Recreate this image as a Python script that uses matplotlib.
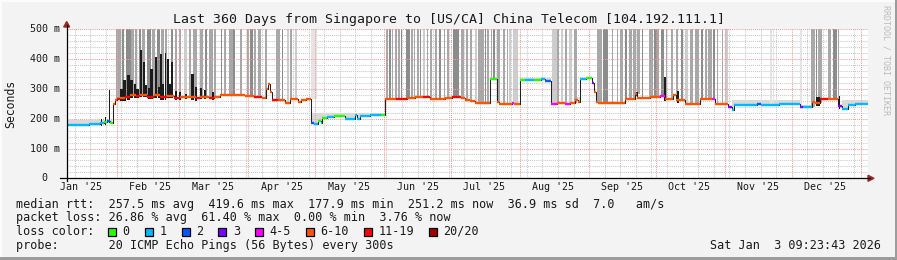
import matplotlib
matplotlib.use("Agg")
import matplotlib.pyplot as plt
import numpy as np
from datetime import datetime, timedelta
from matplotlib.patches import Rectangle, Polygon
from matplotlib.lines import Line2D
from matplotlib.transforms import blended_transform_factory as blend

plt.rcParams['font.family'] = ['DejaVu Sans Mono', 'DejaVu Sans']

# ------------------------------------------------------------------ data
start = datetime(2025, 1, 9, 9, 23, 43)
span_days = 360

title = "Last 360 Days from Singapore to [US/CA] China Telecom [104.192.111.1]"
y_ticks = [0, 100, 200, 300, 400, 500]
y_tick_labels = ["0", "100 m", "200 m", "300 m", "400 m", "500 m"]
month_starts = [(2025, m) for m in range(2, 13)] + [(2026, 1)]
month_labels = [(2025, m) for m in range(1, 13)]

loss_labels = ["0", "1", "2", "3", "4-5", "6-10", "11-19", "20/20"]
loss_colors = ["#26ff00", "#00b8ff", "#0059ff", "#7e00ff",
               "#ff00ff", "#ff5500", "#ff0000", "#a00000"]

# median rtt (ms) as step segments: start day, value, loss class
med_day = [0, 5, 10, 15, 16.8, 18, 19.5, 20.8, 21.8, 22.6,
           24, 26.2, 28.4, 31, 33, 36, 39, 42, 45, 48,
           51, 55, 58, 60, 64, 66, 69, 74, 80, 84,
           87.7, 89.5, 90.4, 91.5, 92.2, 95, 98, 100.3, 103.9, 105.2,
           107.5, 109.8, 111, 112.9, 114, 114.7, 117, 120, 122.7, 125,
           129.5, 130.5, 131.5, 136, 141, 143, 148, 153, 156.4, 160,
           163.2, 169.9, 173, 177, 178.9, 181, 183.4, 190.1, 193.2, 194.1,
           200, 201, 203.6, 206, 210, 213, 215, 217.3, 220, 224,
           226, 228.3, 229.5, 230.7, 233, 235.9, 236.8, 237.7, 238.6, 250.7,
           255, 256.3, 257.5, 262, 264.2, 266.5, 268.7, 272.5, 273.5, 277.7,
           284.4, 289.8, 291.2, 297, 298.8, 299.8, 302.4, 310, 312, 320,
           329.3, 330.6, 334.7, 336, 338.3, 342, 346.4, 348.2, 350.9, 354]
med_ms = [180, 179, 181, 184, 188, 192, 186, 250, 262, 266,
          268, 272, 278, 276, 280, 274, 279, 272, 276, 270,
          274, 272, 268, 273, 270, 274, 281, 280, 276, 272,
          270, 300, 315, 290, 263, 262, 252, 267, 256, 262,
          265, 186, 183, 192, 185, 203, 206, 208, 209, 198,
          211, 200, 210, 212, 214, 265, 267, 268, 273, 272,
          267, 270, 273, 270, 262, 258, 254, 332, 256, 251,
          252, 251, 329, 331, 330, 332, 328, 251, 252, 251,
          253, 262, 255, 333, 335, 320, 290, 256, 254, 265,
          284, 268, 270, 274, 273, 275, 267, 278, 262, 251,
          267, 265, 251, 238, 230, 245, 246, 248, 247, 248,
          238, 238, 256, 252, 265, 266, 242, 231, 245, 251]
med_loss = [1, 1, 1, 1, 0, 2, 0, 5, 5, 6,
            5, 6, 5, 6, 5, 6, 5, 6, 5, 6,
            5, 5, 6, 5, 6, 5, 5, 5, 5, 6,
            5, 5, 5, 5, 6, 5, 5, 5, 5, 5,
            5, 2, 1, 0, 1, 0, 1, 0, 0, 1,
            1, 1, 1, 1, 0, 5, 6, 5, 5, 6,
            5, 5, 6, 5, 5, 5, 5, 0, 5, 5,
            4, 5, 0, 1, 0, 1, 2, 4, 5, 4,
            5, 5, 5, 1, 0, 3, 5, 5, 5, 5,
            5, 5, 5, 5, 5, 4, 5, 5, 5, 5,
            5, 4, 5, 3, 1, 1, 1, 2, 1, 1,
            3, 1, 5, 5, 6, 5, 3, 1, 1, 1]

# tall smoke bars (loss): start day, end day, shade
bar_d0 = [22.1, 24.8, 26.6, 28.9, 30.5, 32.3, 33.8, 36.2, 38.3, 40.4,
          42.5, 44.3, 46.7, 48.5, 50.3, 52.7, 55.1, 56.9, 59.9, 62.1,
          63.9, 66.1, 69.3, 70.6, 72.9, 74.7, 77.8, 81.0, 82.3, 84.1,
          85.9, 89.1, 94.0, 96.7, 98.9, 100.3, 102.5, 109.7,
          143.5, 144.8, 146.1, 147.4, 148.8, 150.1, 152.4, 154.6, 155.9, 157.3,
          158.7, 160.0, 161.8, 163.2, 165.4, 167.2, 169.4, 170.8, 173.5, 177.1,
          179.3, 181.1, 183.4, 184.7, 185.6, 187.9, 188.8, 190.5, 191.4, 193.2,
          195.9, 197.7, 198.6, 200.4, 217.9, 220.2, 221.9, 223.8, 225.6, 227.8,
          238.2, 240.8, 244.9, 247.1, 248.5, 250.7, 252.5, 254.3, 256.1, 258.4,
          261.5, 263.8, 265.1, 266.9, 269.1, 271.4, 273.6, 275.9, 277.7, 279.9,
          282.2, 284.8, 286.6, 288.0, 290.3, 292.1, 294.3, 295.6,
          315.9, 317.2, 329.3, 334.2, 336.5, 337.4, 341.9, 344.1, 346.4]
bar_d1 = [24.3, 25.7, 28.7, 30.2, 31.7, 33.2, 35.3, 37.7, 39.8, 41.9,
          43.7, 45.2, 47.9, 49.4, 51.2, 53.9, 56.0, 58.4, 61.2, 63.0,
          65.7, 67.1, 69.7, 71.5, 74.7, 75.6, 78.7, 81.9, 83.7, 85.0,
          87.3, 90.1, 95.8, 97.1, 99.8, 101.2, 103.4, 112.4,
          144.4, 145.7, 146.5, 148.3, 149.7, 150.6, 154.2, 155.5, 156.4, 158.2,
          159.1, 160.9, 162.3, 164.1, 166.3, 168.1, 169.9, 171.7, 176.2, 178.4,
          180.2, 182.0, 184.3, 185.6, 187.4, 188.3, 189.7, 191.0, 192.3, 194.6,
          196.8, 198.2, 199.5, 202.7, 220.2, 221.1, 222.8, 224.7, 226.9, 229.2,
          240.4, 243.1, 245.4, 247.6, 249.8, 251.6, 253.9, 255.7, 257.5, 258.8,
          263.3, 265.1, 266.0, 268.2, 269.6, 272.3, 274.5, 276.8, 279.0, 281.3,
          283.9, 285.7, 287.5, 289.8, 291.2, 292.6, 294.8, 296.9,
          316.8, 317.7, 330.0, 336.0, 336.9, 339.2, 343.2, 345.9, 346.8]
bar_shade = ["m", "d", "d", "m", "m", "d", "m", "d", "m", "d",
             "m", "m", "d", "m", "m", "l", "m", "m", "m", "d",
             "m", "m", "d", "m", "m", "d", "m", "m", "d", "m",
             "m", "m", "m", "d", "l", "m", "l", "v",
             "m", "d", "m", "m", "m", "d", "d", "m", "m", "m",
             "d", "l", "m", "m", "m", "d", "m", "m", "d", "m",
             "m", "m", "l", "m", "m", "d", "m", "m", "d", "m",
             "m", "m", "l", "l", "l", "m", "l", "m", "l", "m",
             "m", "d", "m", "m", "m", "d", "m", "m", "m", "d",
             "m", "d", "m", "d", "m", "m", "m", "d", "l", "m",
             "m", "d", "m", "m", "d", "m", "m", "l",
             "v", "v", "v", "m", "d", "m", "m", "d", "m"]

# dense (dark) smoke spikes: day, top (ms), width (days)
spike_day = [15.5, 17.5, 19.4, 24.6, 26.0, 27.7, 29.2, 30.7, 31.8, 33.4,
             34.7, 35.8, 36.8, 38.2, 40.0, 41.3, 42.3, 43.4, 44.4, 45.5,
             46.4, 47.4, 49.1, 50.9, 53.6, 56.4, 58.1, 60.3, 62.1, 65.7,
             256.1, 268.7, 274.5, 337.4, 347.1]
spike_top = [200, 205, 295, 300, 329, 346, 329, 318, 300, 430,
             390, 312, 302, 368, 407, 305, 418, 315, 420, 400,
             318, 390, 292, 288, 283, 350, 306, 302, 295, 290,
             290, 340, 292, 273, 275]
spike_w = [0.5, 0.5, 0.5, 1.2, 1.2, 1.3, 1.2, 1.2, 1.0, 0.8,
           1.0, 0.9, 0.9, 1.2, 0.9, 0.9, 0.8, 0.9, 0.8, 0.8,
           0.9, 0.8, 1.0, 1.0, 1.0, 1.2, 1.0, 1.0, 1.0, 1.0,
           0.6, 0.6, 0.8, 1.5, 0.8]

# light smoke spread above the median: start, end, top (ms)
band_d0 = [0, 109.8, 203.6, 228.3, 298.8, 329.3, 348.2]
band_d1 = [20.5, 143, 217.3, 230.7, 329.3, 334.7, 360]
band_top = [196, 218, 338, 272, 262, 246, 262]

stats_rtt = "median rtt:  257.5 ms avg  419.6 ms max  177.9 ms min  251.2 ms now  36.9 ms sd  7.0   am/s"
stats_loss = "packet loss: 26.86 % avg  61.40 % max  0.00 % min  3.76 % now"
probe_text = "probe:       20 ICMP Echo Pings (56 Bytes) every 300s"
stamp_text = "Sat Jan  3 09:23:43 2026"

# ------------------------------------------------------------------ figure
W, H = 897, 260
fig = plt.figure(figsize=(W / 100, H / 100), dpi=100)
fig.patch.set_facecolor("#F3F3F3")

def fx(x):
    return x / W

def fy(y):
    return 1 - y / H

L, R, T, B = 66.7, 868.3, 29.3, 178.3
ax = fig.add_axes([fx(L), fy(B), fx(R - L), (B - T) / H])
ax.set_facecolor("white")
ax.set_xlim(0, span_days)
ax.set_ylim(0, 500)
for s in ax.spines.values():
    s.set_visible(False)
ax.set_xticks([])
ax.set_yticks([])

def dday(dt):
    return (dt - start).total_seconds() / 86400.0

# grid
minor_c = "#C8C8C8"
major_c = "#F29A9A"
dot = (0, (1, 1))
for v in range(20, 500, 20):
    if v % 100:
        ax.axhline(v, color=minor_c, lw=0.75, ls=dot, zorder=0.5)
mon = datetime(2025, 1, 13)
month_days = [dday(datetime(y, m, 1)) for (y, m) in month_starts]
while dday(mon) < span_days:
    d = dday(mon)
    if min(abs(d - md) for md in month_days) > 0.5:
        ax.axvline(d, color=minor_c, lw=0.75, ls=dot, zorder=0.5)
    mon += timedelta(days=7)
ax.axvline(span_days - 0.05, color=minor_c, lw=0.75, ls=dot, zorder=0.5)
for v in y_ticks[1:]:
    ax.axhline(v, color=major_c, lw=0.75, ls=dot, zorder=2.5)
for md in month_days:
    ax.axvline(md, color=major_c, lw=0.75, ls=dot, zorder=2.5)

# median lookup
md_arr = np.array(med_day)
ms_arr = np.array(med_ms, dtype=float)
def med_at(d):
    i = np.searchsorted(md_arr, d, side="right") - 1
    return ms_arr[max(i, 0)]

# light smoke band
for d0, d1, top in zip(band_d0, band_d1, band_top):
    sel = (md_arr < d1) & (np.r_[md_arr[1:], span_days] > d0)
    idx = np.where(sel)[0]
    for i in idx:
        a = max(d0, md_arr[i])
        b = min(d1, md_arr[i + 1] if i + 1 < len(md_arr) else span_days)
        ax.bar(a, top - ms_arr[i] + 2, width=b - a, bottom=ms_arr[i] - 2,
               align="edge", color="#D9D9D9", lw=0, zorder=1)

# tall loss smoke bars
shade_map = {"v": "#E4E4E4", "l": "#CDCDCD", "m": "#A8A8A8", "d": "#8C8C8C"}
for d0, d1, sh in zip(bar_d0, bar_d1, bar_shade):
    bot = med_at(d0)
    ax.bar(d0, 500 - bot, width=d1 - d0, bottom=bot, align="edge",
           color=shade_map[sh], lw=0, zorder=2)

# dense smoke spikes
for d, top, w in zip(spike_day, spike_top, spike_w):
    bot = med_at(d) - 8
    ax.bar(d, top - bot, width=w, bottom=bot, align="center",
           color="#1C1C1C", lw=0, zorder=3)

# median line
ends = list(med_day[1:]) + [span_days]
ax.step(list(med_day) + [span_days], list(med_ms) + [med_ms[-1]], where="post",
        color="#202020", lw=0.75, zorder=4)
ax.hlines(med_ms, med_day, ends, colors=[loss_colors[k] for k in med_loss],
          lw=1.7, zorder=5)

# ------------------------------------------------------------------ axes / arrows
ax_c = "black"
fig.add_artist(Line2D([fx(60), fx(870)], [fy(B), fy(B)], color=ax_c, lw=0.9,
                      transform=fig.transFigure))
fig.add_artist(Line2D([fx(L), fx(L)], [fy(B + 3), fy(25)], color=ax_c, lw=0.9,
                      transform=fig.transFigure))
arrow_c = "#A02828"
fig.add_artist(Polygon([[fx(L - 3), fy(27)], [fx(L + 3), fy(27)], [fx(L), fy(21.5)]],
                       closed=True, color=arrow_c, transform=fig.transFigure))
fig.add_artist(Polygon([[fx(868), fy(B - 3)], [fx(868), fy(B + 3)], [fx(874), fy(B)]],
                       closed=True, color=arrow_c, transform=fig.transFigure))

# tick labels
tfs = 7.2
ytr = blend(fig.transFigure, ax.transData)
for v, lab in zip(y_ticks, y_tick_labels):
    xr = 59.5 if lab != "0" else 47.6
    fig.text(fx(xr), v, lab, transform=ytr, ha="right", va="center",
             fontsize=tfs, color="#1A1A1A")
xtr = blend(ax.transData, fig.transFigure)
for (y, m) in month_labels:
    d = dday(datetime(y, m, 1) + timedelta(days=15))
    lab = datetime(y, m, 1).strftime("%b '%y")
    ax.text(d, fy(187.3), lab, transform=xtr, ha="center", va="center",
            fontsize=tfs, color="#1A1A1A")

fig.text(fx(11), fy(103.8), "Seconds", rotation=90, ha="center", va="center",
         fontsize=8.3, color="#1A1A1A")
fig.text(fx(448.5), fy(23.5), title, ha="center", va="baseline",
         fontsize=9.55, color="#1A1A1A")
fig.text(fx(885.5), fy(60), "RRDTOOL / TOBI OETIKER", rotation=270,
         ha="center", va="center", fontsize=6.0, color="#BBBBBB")

# ------------------------------------------------------------------ legend
lfs = 8.5
cw = 7.1
x0 = 16
fig.text(fx(x0), fy(208), stats_rtt, ha="left", va="baseline", fontsize=lfs, color="#1A1A1A")
fig.text(fx(x0), fy(221.5), stats_loss, ha="left", va="baseline", fontsize=lfs, color="#1A1A1A")
fig.text(fx(x0), fy(235), "loss color:", ha="left", va="baseline", fontsize=lfs, color="#1A1A1A")
fig.text(fx(x0), fy(248.7), probe_text, ha="left", va="baseline", fontsize=lfs, color="#1A1A1A")
fig.text(fx(880.5), fy(248.7), stamp_text, ha="right", va="baseline", fontsize=lfs, color="#1A1A1A")

bx = x0 + 13 * cw
for lab, col in zip(loss_labels, loss_colors):
    fig.add_artist(Rectangle((fx(bx), fy(236)), 8 / W, 8 / H, transform=fig.transFigure,
                             facecolor=col, edgecolor="black", lw=0.9))
    fig.text(fx(bx + 14.3), fy(235), lab, ha="left", va="baseline", fontsize=lfs,
             color="#1A1A1A")
    bx += 29.6 + cw * len(lab)

# frame shading
fig.add_artist(Rectangle((0, fy(2)), 1, 2 / H, transform=fig.transFigure,
                         facecolor="#FCFCFC", lw=0))
fig.add_artist(Rectangle((0, 0), 2 / W, 1, transform=fig.transFigure,
                         facecolor="#FCFCFC", lw=0))
fig.add_artist(Rectangle((0, 0), 1, 3 / H, transform=fig.transFigure,
                         facecolor="#9C9C9C", lw=0))
fig.add_artist(Rectangle((fx(W - 2), 0), 2 / W, 1, transform=fig.transFigure,
                         facecolor="#9C9C9C", lw=0))

fig.savefig("out.png", dpi=100, facecolor=fig.get_facecolor())
